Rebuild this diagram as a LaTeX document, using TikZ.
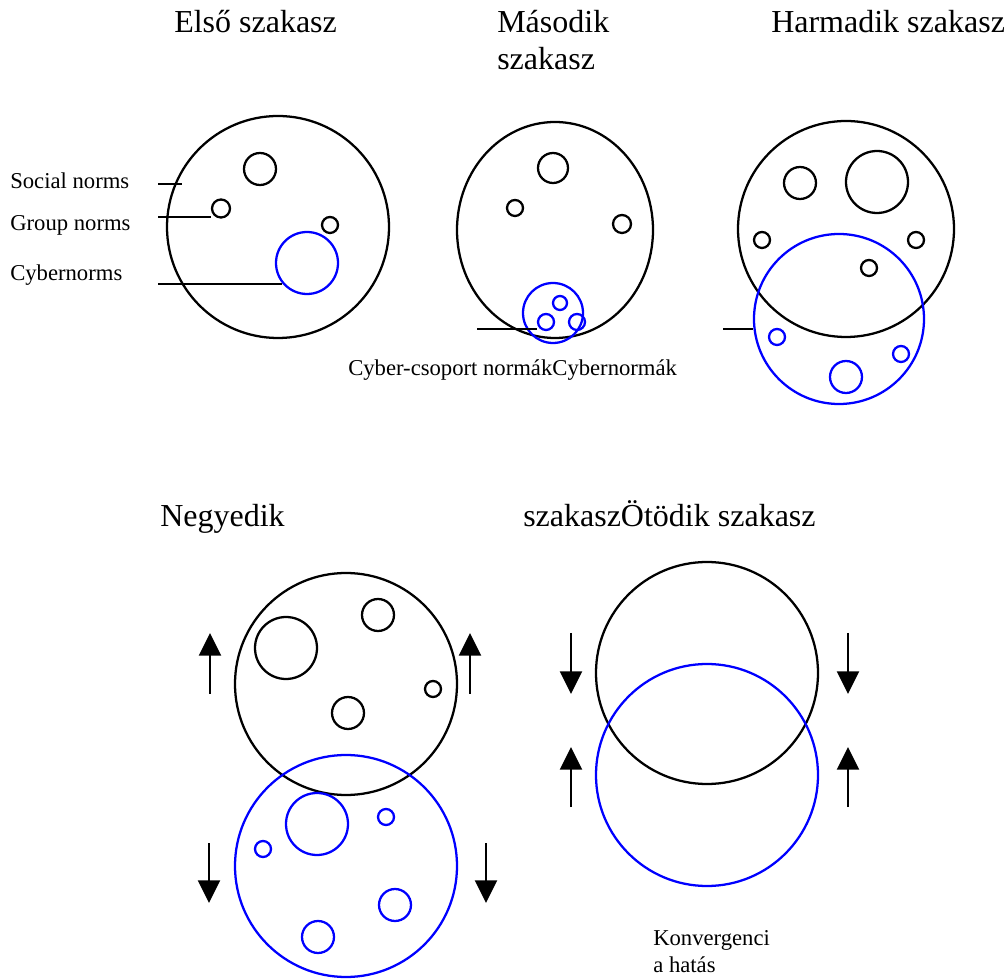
\documentclass[tikz,border=0pt]{standalone}
\usepackage{fontspec}
\setmainfont{Liberation Serif}
\usetikzlibrary{arrows.meta,shapes.geometric}

\begin{document}
\begin{tikzpicture}[
    x=0.75pt, y=-0.75pt,
    ring/.style={circle, draw, line width=1.7pt, inner sep=0pt, minimum size={#1*1.5pt}},
    cyber/.style={ring=#1, draw=blue},
    stagetitle/.style={anchor=base west, inner sep=0pt, align=left, font=\fontsize{24}{27.75}\selectfont},
    label/.style={anchor=base west, inner sep=0pt, align=left, font=\fontsize{17}{20.25}\selectfont},
    push/.style={line width=1.8pt, -{Triangle[width=16.5pt, length=17pt]}}
]
    \useasboundingbox (0,0) rectangle (1008,980);

    % titles
    \node[stagetitle] (elso) at (174,33) {Első szakasz};
    \node[stagetitle] (masodik) at (497,70) {Második\\szakasz};
    \node[stagetitle] (harmadik) at (771,33) {Harmadik szakasz};
    \node[stagetitle] (negyedik) at (160,527) {Negyedik};
    \node[stagetitle] (otodik) at (523,527) {szakaszÖtödik szakasz};

    % first stage
    \node[ring=111] (s1) at (278,227) {};
    \node[ring=16] (s1a) at (260,169) {};
    \node[ring=9] (s1b) at (221,208.5) {};
    \node[ring=8] (s1c) at (330,225) {};
    \node[cyber=31] (s1cy) at (307,263) {};

    \node[label] (social) at (10,189) {Social norms};
    \node[label] (group) at (10,231) {Group norms};
    \node[label] (cybernorms) at (10,281) {Cybernorms};
    \coordinate (socl) at (158,184);
    \coordinate (socr) at (182,184);
    \coordinate (grpl) at (158,217);
    \coordinate (cybl) at (158,284);
    \draw[line width=1.7pt] (socl) -- (socr);
    \draw[line width=1.7pt] (grpl) -- (grpl -| s1b.west);
    \draw[line width=1.7pt] (cybl) -- (cybl -| s1cy.220);

    % second stage
    \node[ellipse, draw, line width=1.7pt, inner sep=0pt, minimum width=147pt, minimum height=162pt] (s2) at (555,230) {};
    \node[ring=15] (s2a) at (553,168) {};
    \node[ring=8] (s2b) at (515,208) {};
    \node[ring=9] (s2c) at (622,224) {};
    \node[cyber=30] (s2cy) at (553,313) {};
    \node[cyber=7] (s2cya) at (560,303) {};
    \node[cyber=8] (s2cyb) at (546,322) {};
    \node[cyber=8] (s2cyc) at (577,322) {};
    \coordinate (s2l) at (477,329);
    \draw[line width=1.7pt] (s2l) -- (s2l -| s2cyb.west);
    \node[label] (cybcsop) at (348,376) {Cyber-csoport normákCybernormák};

    % third stage
    \node[ring=108] (s3) at (846,229) {};
    \node[ring=16] (s3a) at (800,183) {};
    \node[ring=31] (s3b) at (877,182) {};
    \node[ring=8] (s3c) at (762,240) {};
    \node[ring=8] (s3d) at (916,240) {};
    \node[ring=8] (s3e) at (869,268) {};
    \node[cyber=85] (s3cy) at (839,319) {};
    \node[cyber=8] (s3cya) at (777,337) {};
    \node[cyber=16] (s3cyb) at (846,377) {};
    \node[cyber=8] (s3cyc) at (901,354) {};
    \coordinate (s3l) at (723,329);
    \draw[line width=1.7pt] (s3l) -- (s3l -| s3cy.west);

    % fourth stage
    \node[ring=111] (s4) at (346,684) {};
    \node[ring=31] (s4a) at (286,648) {};
    \node[ring=16] (s4b) at (378,615) {};
    \node[ring=16] (s4c) at (348,713) {};
    \node[ring=8] (s4d) at (433,689) {};
    \node[cyber=111] (s4cy) at (346,866) {};
    \node[cyber=31] (s4cya) at (317,824) {};
    \node[cyber=8] (s4cyb) at (386,817) {};
    \node[cyber=8] (s4cyc) at (263,849) {};
    \node[cyber=16] (s4cyd) at (395,905) {};
    \node[cyber=16] (s4cye) at (318,937) {};

    \coordinate (up1a) at (210,694);  \coordinate (up1b) at (210,633);
    \coordinate (up2a) at (470,694);  \coordinate (up2b) at (470,633);
    \coordinate (dn1a) at (209,843);  \coordinate (dn1b) at (209,903);
    \coordinate (dn2a) at (486,843);  \coordinate (dn2b) at (486,903);
    \draw[push] (up1a) -- (up1b);
    \draw[push] (up2a) -- (up2b);
    \draw[push] (dn1a) -- (dn1b);
    \draw[push] (dn2a) -- (dn2b);

    % fifth stage
    \node[ring=111] (s5) at (707,673) {};
    \node[cyber=111] (s5cy) at (707,775) {};

    \coordinate (dn3a) at (571,633);  \coordinate (dn3b) at (571,694);
    \coordinate (dn4a) at (848,633);  \coordinate (dn4b) at (848,694);
    \coordinate (up3a) at (571,807);  \coordinate (up3b) at (571,747);
    \coordinate (up4a) at (848,807);  \coordinate (up4b) at (848,747);
    \draw[push] (dn3a) -- (dn3b);
    \draw[push] (dn4a) -- (dn4b);
    \draw[push] (up3a) -- (up3b);
    \draw[push] (up4a) -- (up4b);

    \node[label] (konv) at (653,972) {Konvergenci\\a hatás};
\end{tikzpicture}
\end{document}
